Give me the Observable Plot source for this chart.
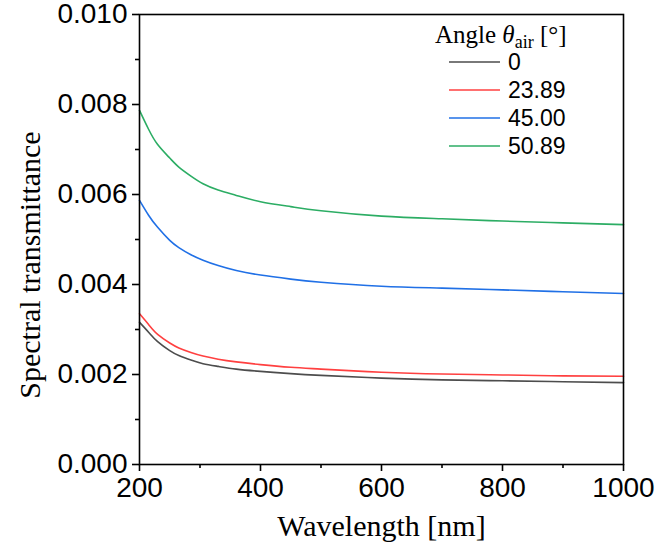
<!DOCTYPE html>
<html>
<head>
<meta charset="utf-8">
<script src="https://cdn.jsdelivr.net/npm/d3@7"></script>
<script src="https://cdn.jsdelivr.net/npm/@observablehq/plot@0.6"></script>
<style>
  html, body { margin: 0; padding: 0; background: white; }
</style>
</head>
<body>
<div id="chart"></div>
<script>
const wavelengths = [200, 215, 230, 250, 265, 285, 305, 330, 360, 400, 450, 500, 600, 700, 800, 900, 1000];
const angles = ["0", "23.89", "45.00", "50.89"];
const colors = ["#4d4d4d", "#ff4040", "#2070e6", "#2cad64"];
const t0     = [0.00316, 0.00294, 0.00273, 0.00253, 0.00242, 0.00232, 0.00224, 0.00218, 0.00212, 0.00207, 0.00202, 0.00198, 0.00192, 0.00188, 0.00186, 0.00184, 0.00182];
const t2389  = [0.00335, 0.00311, 0.00289, 0.00270, 0.00259, 0.00249, 0.00241, 0.00234, 0.00228, 0.00222, 0.00216, 0.00212, 0.00205, 0.00201, 0.00199, 0.00197, 0.00196];
const t4500  = [0.00587, 0.00554, 0.00527, 0.00498, 0.00482, 0.00466, 0.00454, 0.00442, 0.00431, 0.00421, 0.00412, 0.00405, 0.00396, 0.00392, 0.00388, 0.00384, 0.00380];
const t5089  = [0.00787, 0.00745, 0.00711, 0.00681, 0.00661, 0.00641, 0.00624, 0.00610, 0.00598, 0.00584, 0.00573, 0.00564, 0.00552, 0.00546, 0.00541, 0.00537, 0.00533];
const seriesValues = [t0, t2389, t4500, t5089];
const xMajor = [200, 400, 600, 800, 1000];
const xMinor = [300, 500, 700, 900];
const yMajor = [0, 0.002, 0.004, 0.006, 0.008, 0.010];
const yMinor = [0.001, 0.003, 0.005, 0.007, 0.009];

const data = [];
angles.forEach((a, i) => {
  wavelengths.forEach((w, j) => data.push({angle: a, wl: w, t: seriesValues[i][j]}));
});

const sans = "'Liberation Sans', Arial, sans-serif";
const serif = "'Liberation Serif', 'Times New Roman', serif";

const chart = Plot.plot({
  width: 657,
  height: 552,
  marginLeft: 139,
  marginRight: 34,
  marginTop: 14,
  marginBottom: 88,
  style: {fontFamily: sans, fontSize: "28px", color: "black", background: "white", overflow: "visible"},
  x: {domain: [200, 1000]},
  y: {domain: [0, 0.010]},
  color: {domain: angles, range: colors},
  marks: [
    Plot.line(data, {x: "wl", y: "t", z: "angle", stroke: "angle", strokeWidth: 1.6, curve: "natural"}),
    Plot.frame({stroke: "black", strokeWidth: 1.6}),
    Plot.axisX({ticks: xMajor, tickSize: 7, tickPadding: 6, fontSize: 28, label: null, strokeWidth: 1.6, tickFormat: d => String(d)}),
    Plot.axisX({ticks: xMinor, tickSize: 4, text: null, label: null, strokeWidth: 1.6}),
    Plot.axisY({ticks: yMajor, tickSize: 7, tickPadding: 5, fontSize: 28, label: null, strokeWidth: 1.6, tickFormat: d => d.toFixed(3)}),
    Plot.axisY({ticks: yMinor, tickSize: 4, text: null, label: null, strokeWidth: 1.6}),
    Plot.text(["Wavelength [nm]"], {frameAnchor: "bottom", dy: 71, lineAnchor: "bottom", fontFamily: serif, fontSize: 30, fill: "black"})
  ]
});

document.getElementById("chart").appendChild(chart);

const svg = d3.select(chart);

// Y axis title
svg.append("text")
  .attr("transform", "translate(40,265) rotate(-90)")
  .attr("text-anchor", "middle")
  .attr("font-family", serif).attr("font-size", 30).attr("fill", "black")
  .text("Spectral transmittance");

// Legend (inside plot, upper right)
const lg = svg.append("g").attr("class", "legend").attr("text-anchor", "start");
const title = lg.append("text")
  .attr("x", 435).attr("y", 43)
  .attr("text-anchor", "start")
  .attr("font-family", serif).attr("font-size", 25).attr("fill", "black");
title.append("tspan").text("Angle ");
title.append("tspan").attr("font-style", "italic").text("θ");
title.append("tspan").attr("font-size", 18).attr("dy", 5).text("air");
title.append("tspan").attr("dy", -5).text(" [°]");

angles.forEach((a, i) => {
  const yy = 62 + i * 28;
  lg.append("line").attr("x1", 449).attr("x2", 500).attr("y1", yy).attr("y2", yy)
    .attr("stroke", colors[i]).attr("stroke-width", 1.6);
  lg.append("text").attr("x", 508).attr("y", yy + 8)
    .attr("text-anchor", "start")
    .attr("font-family", sans).attr("font-size", 23).attr("fill", "black").text(a);
});
</script>
</body>
</html>
